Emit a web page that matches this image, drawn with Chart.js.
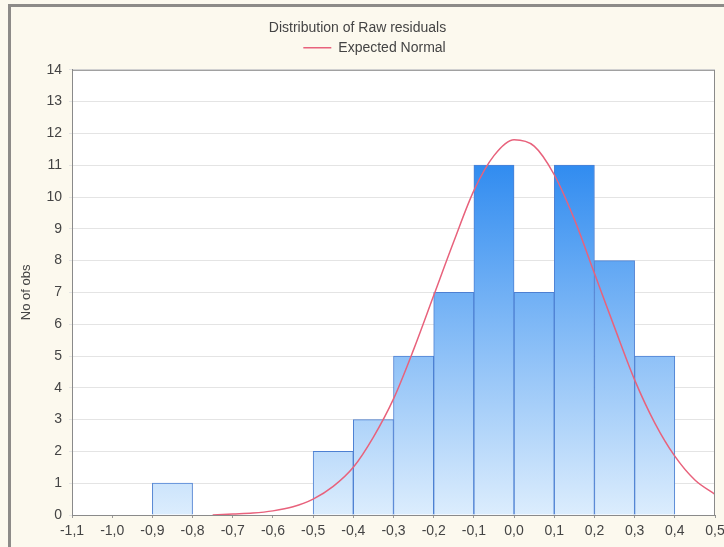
<!DOCTYPE html>
<html>
<head>
<meta charset="utf-8">
<script src="https://cdn.jsdelivr.net/npm/chart.js@4.4.1/dist/chart.umd.min.js"></script>
<style>
    body { margin: 0; background: #fcf9ee; }
    #wrap { width: 724px; height: 547px; }
</style>
</head>
<body>
<div id="wrap"><canvas id="histChart" width="724" height="547"></canvas></div>
<script>
// histogram bins (centres) and counts
var binCenters = [-0.85, -0.45, -0.35, -0.25, -0.15, -0.05, 0.05, 0.15, 0.25, 0.35];
var binCounts = [1, 2, 3, 5, 7, 11, 7, 11, 8, 5];

// expected normal curve
var normalX = [-0.75, -0.7, -0.65, -0.6, -0.55, -0.5, -0.45, -0.4, -0.35, -0.3, -0.25, -0.2, -0.15, -0.1, -0.05, 0.0, 0.05, 0.1, 0.15, 0.2, 0.25, 0.3, 0.35, 0.4, 0.45, 0.5];
var normalY = [0.0, 0.03, 0.06, 0.13, 0.26, 0.5, 0.9, 1.5, 2.45, 3.65, 5.2, 6.9, 8.6, 10.2, 11.3, 11.8, 11.6, 10.7, 9.3, 7.6, 5.9, 4.25, 2.9, 1.85, 1.1, 0.65];

var xMin = -1.1, xMax = 0.5;
var yMin = 0, yMax = 14;

var FONT = 'Liberation Sans, Arial, sans-serif';

var barPoints = binCenters.map((x, i) => ({ x: x, y: binCounts[i] }));
var curvePoints = normalX.map((x, i) => ({ x: x, y: normalY[i] }));

function barFill(context) {
    var chart = context.chart;
    var area = chart.chartArea;
    if (!area) return '#8fc2f6';
    var yScale = chart.scales.y;
    var g = chart.ctx.createLinearGradient(0, yScale.getPixelForValue(11), 0, area.bottom);
    g.addColorStop(0, '#318cf0');
    g.addColorStop(1, '#dcedfd');
    return g;
}

var framePlugin = {
    id: 'frame',
    afterInit(chart) {
        // a bit more room between legend and plot
        var legend = chart.legend;
        var origFit = legend.fit;
        legend.fit = function () {
            origFit.call(legend);
            this.height += 5;
        };
    },
    afterLayout(chart) {
        // legend sits a little right of centre in the original
        chart.legend.left += 17;
        chart.legend.right += 17;
    },
    beforeDraw(chart) {
        var c = chart.ctx;
        var a = chart.chartArea;
        c.save();
        c.fillStyle = '#fcf9ee';
        c.fillRect(0, 0, chart.width, chart.height);
        c.fillStyle = '#8d8b88';
        c.fillRect(8, 4, chart.width - 8, 3);
        c.fillRect(8, 4, 3, chart.height - 4);
        c.fillStyle = '#ffffff';
        c.fillRect(a.left, a.top, a.right - a.left, a.bottom - a.top);
        c.restore();
    },
    afterDraw(chart) {
        var c = chart.ctx;
        var a = chart.chartArea;
        c.save();
        c.strokeStyle = '#8a8a8a';
        c.lineWidth = 1;
        c.strokeRect(a.left + 0.5, a.top + 0.5, a.right - a.left - 1, a.bottom - a.top);
        c.restore();
    }
};

var ctx = document.getElementById('histChart').getContext('2d');
var chart = new Chart(ctx, {
    type: 'bar',
    data: {
        datasets: [
            {
                type: 'bar',
                label: 'Raw residuals',
                data: barPoints,
                backgroundColor: barFill,
                borderColor: '#4d80d2',
                borderWidth: 1,
                borderSkipped: 'bottom',
                barPercentage: 1,
                categoryPercentage: 1,
                order: 2
            },
            {
                type: 'line',
                label: 'Expected Normal',
                data: curvePoints,
                borderColor: '#e8627c',
                backgroundColor: '#e8627c',
                borderWidth: 1.5,
                pointRadius: 0,
                tension: 0.4,
                cubicInterpolationMode: 'monotone',
                fill: false,
                order: 1
            }
        ]
    },
    options: {
        responsive: false,
        devicePixelRatio: 1,
        animation: false,
        layout: { padding: { left: 0, right: 9, top: 0, bottom: 4 } },
        plugins: {
            title: {
                display: true,
                text: 'Distribution of Raw residuals',
                color: '#444',
                font: { family: FONT, size: 14, weight: 'normal' },
                padding: { top: 20, bottom: 0 }
            },
            legend: {
                display: true,
                labels: {
                    filter: item => item.text === 'Expected Normal',
                    usePointStyle: true,
                    pointStyle: 'line',
                    pointStyleWidth: 28,
                    color: '#444',
                    font: { family: FONT, size: 14 },
                    padding: 4
                }
            },
            tooltip: { enabled: false }
        },
        scales: {
            x: {
                type: 'linear',
                min: xMin,
                max: xMax,
                offset: false,
                ticks: {
                    stepSize: 0.1,
                    color: '#444',
                    padding: 5,
                    maxRotation: 0,
                    autoSkip: false,
                    font: { family: FONT, size: 14 },
                    callback: v => v.toFixed(1).replace('.', ',')
                },
                grid: { display: true, drawOnChartArea: false, tickLength: 3, color: '#999', offset: false },
                border: { display: true, color: '#8a8a8a' },
                afterFit(scale) {
                    scale.height = 28;
                    scale.paddingLeft = 0;
                    scale.paddingRight = 0;
                }
            },
            y: {
                min: yMin,
                max: yMax,
                ticks: {
                    stepSize: 1,
                    color: '#444',
                    padding: 7,
                    font: { family: FONT, size: 14 }
                },
                grid: { color: '#e4e4e4', tickLength: 3 },
                border: { display: true, color: '#8a8a8a' },
                title: {
                    display: true,
                    text: 'No of obs',
                    color: '#444',
                    font: { family: FONT, size: 13 },
                    padding: { top: 19, bottom: 0 }
                },
                afterFit(scale) { scale.width = 72; }
            }
        }
    },
    plugins: [framePlugin]
});
</script>
</body>
</html>
